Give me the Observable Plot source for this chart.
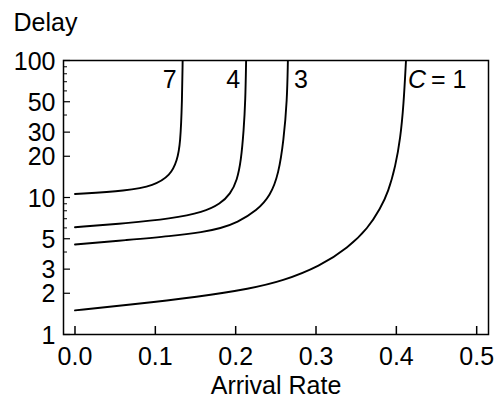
<!DOCTYPE html>
<html>
<head>
<meta charset="utf-8">
<script src="https://cdn.jsdelivr.net/npm/d3@7"></script>
<script src="https://cdn.jsdelivr.net/npm/@observablehq/plot@0.6"></script>
<style>
  html, body { margin: 0; padding: 0; background: #fff; }
  svg { display: block; }
</style>
</head>
<body>
<div id="chart"></div>
<script>
// Curve C = 1
const c1Rate  = [0, 0.065, 0.156, 0.218, 0.258, 0.305, 0.34, 0.365, 0.38, 0.39, 0.399, 0.405, 0.409, 0.412];
const c1Delay = [1.5, 1.64, 1.89, 2.16, 2.45, 3.15, 4.3, 6.0, 8.3, 11.0, 17, 27, 47, 100];
// Curve C = 3
const c3Rate  = [0, 0.065, 0.119, 0.160, 0.181, 0.2017, 0.2266, 0.2432, 0.2535, 0.2597, 0.264, 0.265];
const c3Delay = [4.54, 4.9, 5.22, 5.6, 5.95, 6.55, 8.04, 10.3, 14.9, 26.1, 51, 100];
// Curve C = 4
const c4Rate  = [0, 0.065, 0.119, 0.160, 0.181, 0.1934, 0.2017, 0.2067, 0.21, 0.2121, 0.213];
const c4Delay = [6.07, 6.5, 7.0, 7.81, 9.0, 10.6, 13.3, 18.6, 30.8, 51, 100];
// Curve C = 7
const c7Rate  = [0, 0.065, 0.098, 0.1188, 0.1271, 0.1312, 0.1333, 0.134];
const c7Delay = [10.6, 11.2, 12.2, 14.5, 18.6, 24.7, 51, 100];

const xTicks = [0, 0.1, 0.2, 0.3, 0.4, 0.5];
const yMajorTicks = [1, 2, 3, 5, 10, 20, 30, 50, 100];
const yMinorTicks = [4, 6, 7, 8, 9, 40, 60, 70, 80, 90];

const curveNames = ["1", "3", "4", "7"];
const curveLabelText = ["3", "4", "7"];
const curveLabelRate = [0.265, 0.213, 0.134];
const labelDelay = 72;

const toRows = (name, xs, ys) => xs.map((x, i) => ({c: name, x, y: ys[i]}));
const rows = [
  ...toRows(curveNames[0], c1Rate, c1Delay),
  ...toRows(curveNames[1], c3Rate, c3Delay),
  ...toRows(curveNames[2], c4Rate, c4Delay),
  ...toRows(curveNames[3], c7Rate, c7Delay)
];
const labelRows = curveLabelText.map((t, i) => ({t, x: curveLabelRate[i], y: labelDelay}));

const FONT = "'Liberation Sans', Arial, Helvetica, sans-serif";
const FS = 25;

const chart = Plot.plot({
  width: 497,
  height: 410,
  marginLeft: 63,
  marginRight: 9,
  marginTop: 60,
  marginBottom: 76,
  style: {fontFamily: FONT, fontSize: FS + "px", color: "black", background: "white"},
  x: {domain: [-0.0143, 0.5147], label: null},
  y: {type: "log", domain: [1, 100], label: null},
  marks: [
    Plot.line(rows, {x: "x", y: "y", z: "c", stroke: "black", strokeWidth: 1.9, curve: "basis", clip: true}),
    Plot.frame({stroke: "black", strokeWidth: 1.5}),
    // inward ticks
    Plot.axisX(xTicks, {tickSize: -8, tickFormat: () => "", strokeWidth: 1.5}),
    Plot.axisY(yMajorTicks, {tickSize: -7, tickFormat: () => "", strokeWidth: 1.2}),
    Plot.axisY(yMinorTicks, {tickSize: -4, tickFormat: () => "", strokeWidth: 1}),
    // tick labels
    Plot.text(xTicks, {x: d => d, frameAnchor: "bottom", text: d => d3.format(".1f")(d), textAnchor: "middle", lineAnchor: "middle", dy: 22, fontSize: FS}),
    Plot.text(yMajorTicks, {y: d => d, frameAnchor: "left", text: d => String(d), textAnchor: "end", lineAnchor: "middle", dx: -8, dy: 1, fontSize: FS}),
    // axis titles
    Plot.text(["Delay"], {text: d => d, frameAnchor: "top-left", textAnchor: "start", lineAnchor: "middle", dx: -50, dy: -38, fontSize: FS}),
    Plot.text(["Arrival Rate"], {text: d => d, frameAnchor: "bottom", textAnchor: "middle", lineAnchor: "middle", dy: 51, fontSize: FS}),
    // curve labels
    Plot.text(labelRows.filter(d => d.t !== "3"), {x: "x", y: "y", text: "t", textAnchor: "end", lineAnchor: "middle", dx: -6, fontSize: FS}),
    Plot.text(labelRows.filter(d => d.t === "3"), {x: "x", y: "y", text: "t", textAnchor: "start", lineAnchor: "middle", dx: 6, fontSize: FS}),
    Plot.text([{x: 0.412, y: labelDelay}], {x: "x", y: "y", text: () => "C", textAnchor: "start", lineAnchor: "middle", dx: 2, fontSize: FS, fontStyle: "italic"}),
    Plot.text([{x: 0.412, y: labelDelay}], {x: "x", y: "y", text: () => "= " + curveNames[0], textAnchor: "start", lineAnchor: "middle", dx: 25, fontSize: FS})
  ]
});
document.getElementById("chart").appendChild(chart);
</script>
</body>
</html>
